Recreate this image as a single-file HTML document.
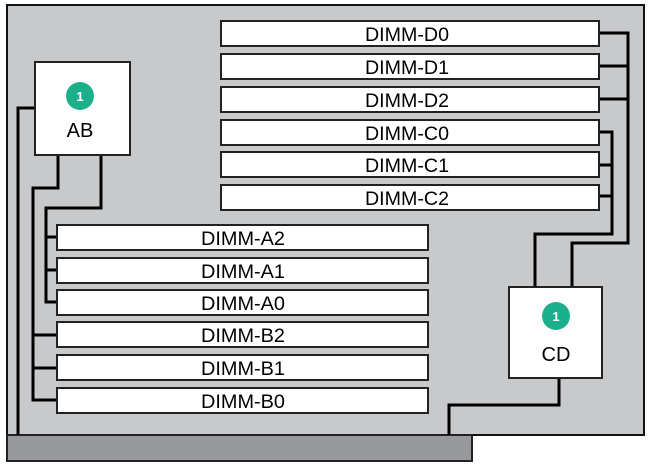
<!DOCTYPE html>
<html><head><meta charset="utf-8"><style>
html,body{margin:0;padding:0;background:#fff;width:648px;height:469px;overflow:hidden}
svg{display:block}
text{font-family:"Liberation Sans",Arial,sans-serif}
</style></head><body>
<svg width="648" height="469" viewBox="0 0 648 469" xmlns="http://www.w3.org/2000/svg">
<rect x="7" y="5" width="637" height="430" fill="#c8c9cb" stroke="#111" stroke-width="2"/>
<rect x="7" y="435" width="465" height="26" fill="#98999c" stroke="#222" stroke-width="2"/>
<g fill="none" stroke="#000" stroke-width="3">
<polyline points="35,108 18,108 18,435"/>
<polyline points="58,155 58,188 33,188 33,400 57,400"/>
<line x1="33" y1="335" x2="57" y2="335"/><line x1="33" y1="368" x2="57" y2="368"/>
<polyline points="101,155 101,208 46,208 46,302 57,302"/>
<line x1="46" y1="237" x2="57" y2="237"/><line x1="46" y1="270" x2="57" y2="270"/>
<polyline points="599,33 628,33 628,243 572,243 572,287"/>
<line x1="599" y1="66" x2="628" y2="66"/><line x1="599" y1="99" x2="628" y2="99"/>
<polyline points="599,132 612,132 612,234 535,234 535,287"/>
<line x1="599" y1="165" x2="612" y2="165"/><line x1="599" y1="196" x2="612" y2="196"/>
<polyline points="559,378 559,405 449,405 449,435"/>
</g>
<g fill="#fff" stroke="#222" stroke-width="2">
<rect x="221" y="21" width="378" height="25"/>
<rect x="221" y="54" width="378" height="25"/>
<rect x="221" y="87" width="378" height="25"/>
<rect x="221" y="120" width="378" height="25"/>
<rect x="221" y="152" width="378" height="25"/>
<rect x="221" y="185" width="378" height="25"/>
<rect x="57" y="225" width="371" height="25"/>
<rect x="57" y="258" width="371" height="25"/>
<rect x="57" y="290" width="371" height="25"/>
<rect x="57" y="322" width="371" height="25"/>
<rect x="57" y="355" width="371" height="25"/>
<rect x="57" y="388" width="371" height="25"/>
<rect x="35" y="62" width="95" height="93"/>
<rect x="509" y="287" width="93" height="91"/>
</g>
<g font-size="19" fill="#000" text-anchor="middle" lengthAdjust="spacingAndGlyphs">
<text x="407" y="41" textLength="84" lengthAdjust="spacingAndGlyphs">DIMM-D0</text>
<text x="407" y="74" textLength="84" lengthAdjust="spacingAndGlyphs">DIMM-D1</text>
<text x="407" y="107" textLength="84" lengthAdjust="spacingAndGlyphs">DIMM-D2</text>
<text x="407" y="140" textLength="84" lengthAdjust="spacingAndGlyphs">DIMM-C0</text>
<text x="407" y="172" textLength="84" lengthAdjust="spacingAndGlyphs">DIMM-C1</text>
<text x="407" y="205" textLength="84" lengthAdjust="spacingAndGlyphs">DIMM-C2</text>
<text x="243" y="245" textLength="84" lengthAdjust="spacingAndGlyphs">DIMM-A2</text>
<text x="243" y="278" textLength="84" lengthAdjust="spacingAndGlyphs">DIMM-A1</text>
<text x="243" y="310" textLength="84" lengthAdjust="spacingAndGlyphs">DIMM-A0</text>
<text x="243" y="342" textLength="84" lengthAdjust="spacingAndGlyphs">DIMM-B2</text>
<text x="243" y="375" textLength="84" lengthAdjust="spacingAndGlyphs">DIMM-B1</text>
<text x="243" y="408" textLength="84" lengthAdjust="spacingAndGlyphs">DIMM-B0</text>
<text x="80" y="137" font-size="20">AB</text>
<text x="556" y="361" font-size="20">CD</text>
</g>
<circle cx="80" cy="96" r="14" fill="#1bb08b"/>
<text x="80" y="101" font-size="13" font-weight="bold" fill="#fff" text-anchor="middle">1</text>
<circle cx="556" cy="316" r="14" fill="#1bb08b"/>
<text x="556" y="321" font-size="13" font-weight="bold" fill="#fff" text-anchor="middle">1</text>
</svg>
</body></html>
